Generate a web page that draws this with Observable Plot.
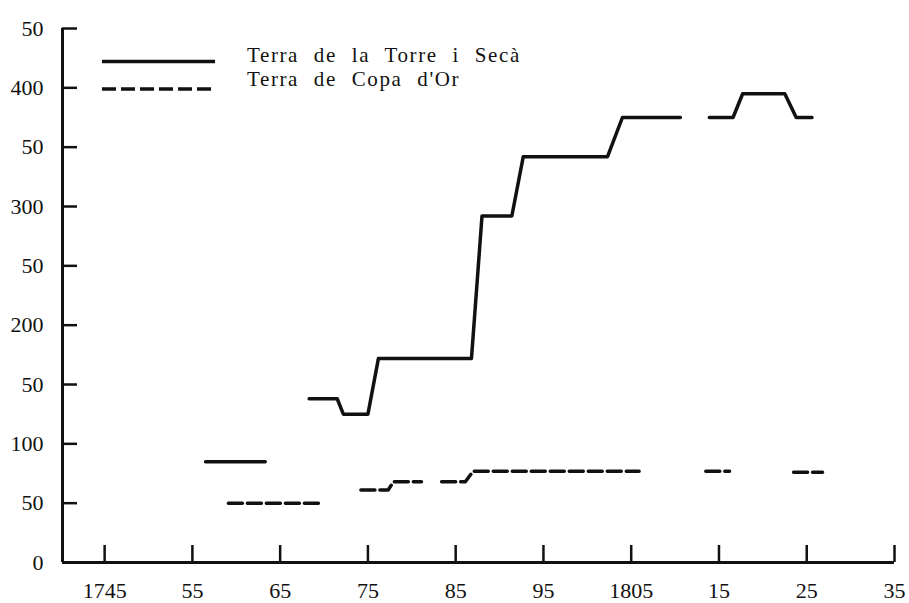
<!DOCTYPE html>
<html>
<head>
<meta charset="utf-8">
<script src="https://cdn.jsdelivr.net/npm/d3@7"></script>
<script src="https://cdn.jsdelivr.net/npm/@observablehq/plot@0.6"></script>
<style>
  html, body { margin: 0; padding: 0; background: #fff; }
  #wrap { position: relative; width: 909px; height: 603px; }
  #legend { position: absolute; left: 0; top: 0; pointer-events: none; }
  #legend text { font-family: "Liberation Serif", "DejaVu Serif", serif; font-size: 21px; letter-spacing: 1.6px; word-spacing: 8px; fill: #111; }
</style>
</head>
<body>
<div id="wrap"></div>
<script>
// ---- data ----
const seriesNames = ["Terra de la Torre i Secà", "Terra de Copa d'Or"];

const torreYears  = [1756.5, 1763.3, NaN, 1768.3, 1771.5, 1772.2, 1775.0, 1776.2, 1786.8, 1788.0, 1791.4, 1792.7, 1802.3, 1804.0, 1810.6, NaN, 1813.9, 1816.6, 1817.7, 1822.5, 1823.8, 1825.6];
const torreValues = [85, 85, NaN, 138, 138, 125, 125, 172, 172, 292, 292, 342, 342, 375, 375, NaN, 375, 375, 395, 395, 375, 375];

const copaYears  = [1759.1, 1769.6, NaN, 1774.2, 1777.3, 1777.9, 1781.1, NaN, 1783.4, 1786.1, 1787.0, 1805.9, NaN, 1813.5, 1816.2, NaN, 1823.5, 1826.8];
const copaValues = [50, 50, NaN, 61, 61, 68, 68, NaN, 68, 68, 77, 77, NaN, 77, 77, NaN, 76, 76];

const xTicks = [1745, 1755, 1765, 1775, 1785, 1795, 1805, 1815, 1825, 1835];
const xTickLabels = ["1745", "55", "65", "75", "85", "95", "1805", "15", "25", "35"];
const yTicks = [0, 50, 100, 150, 200, 250, 300, 350, 400, 450];
const yTickLabels = ["0", "50", "100", "50", "200", "50", "300", "50", "400", "50"];

const xDomain = [1740.2, 1835];
const yDomain = [0, 450];

// ---- build tables ----
const torre = torreYears.map((y, i) => ({year: y, value: torreValues[i]}));
const copa = copaYears.map((y, i) => ({year: y, value: copaValues[i]}));
const xLab = new Map(xTicks.map((t, i) => [t, xTickLabels[i]]));
const yLab = new Map(yTicks.map((t, i) => [t, yTickLabels[i]]));

const ink = "#111";

const chart = Plot.plot({
  width: 909,
  height: 603,
  marginLeft: 62,
  marginRight: 15,
  marginTop: 28,
  marginBottom: 41,
  style: {fontFamily: "'Liberation Serif', 'DejaVu Serif', serif", fontSize: "22px", color: ink, background: "#fff"},
  x: {domain: xDomain},
  y: {domain: yDomain},
  marks: [
    Plot.axisX({ticks: xTicks, tickFormat: d => xLab.get(d), tickSize: -17, tickPadding: 37, strokeWidth: 2.5, label: null}),
    Plot.axisY({ticks: yTicks, tickFormat: d => yLab.get(d), tickSize: -15, tickPadding: 34, strokeWidth: 2.5, label: null}),
    Plot.ruleX([xDomain[0]], {stroke: ink, strokeWidth: 3}),
    Plot.ruleY([yDomain[0]], {stroke: ink, strokeWidth: 3}),
    Plot.line(torre, {x: "year", y: "value", stroke: ink, strokeWidth: 3.5, strokeLinejoin: "round"}),
    Plot.line(copa, {x: "year", y: "value", stroke: ink, strokeWidth: 3.5, strokeDasharray: "14,5", strokeLinejoin: "round"})
  ]
});

const wrap = document.getElementById("wrap");
wrap.appendChild(chart);

// legend (drawn inside the plot area, top-left)
const ns = "http://www.w3.org/2000/svg";
const leg = document.createElementNS(ns, "svg");
leg.setAttribute("id", "legend");
leg.setAttribute("width", 909);
leg.setAttribute("height", 120);
const items = [
  {name: seriesNames[0], dash: null, ly: 61.5, ty: 62},
  {name: seriesNames[1], dash: "14,5", ly: 89, ty: 86}
];
for (const it of items) {
  const l = document.createElementNS(ns, "line");
  l.setAttribute("x1", 102); l.setAttribute("x2", 215);
  l.setAttribute("y1", it.ly); l.setAttribute("y2", it.ly);
  l.setAttribute("stroke", ink); l.setAttribute("stroke-width", 3.5);
  if (it.dash) l.setAttribute("stroke-dasharray", it.dash);
  leg.appendChild(l);
  const t = document.createElementNS(ns, "text");
  t.setAttribute("x", 247); t.setAttribute("y", it.ty);
  t.textContent = it.name;
  leg.appendChild(t);
}
wrap.appendChild(leg);
</script>
</body>
</html>
